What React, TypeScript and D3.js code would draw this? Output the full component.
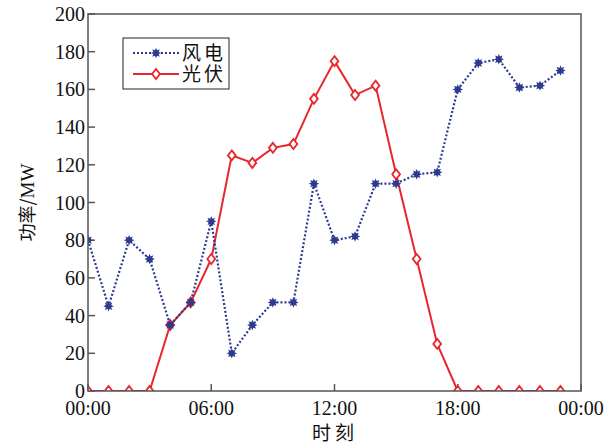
import React from 'react';
import * as d3 from 'd3';

const hours = d3.range(0, 24);
const windPower = [80, 45, 80, 70, 35, 47, 90, 20, 35, 47, 47, 110, 80, 82, 110, 110, 115, 116, 160, 174, 176, 161, 162, 170];
const solarPower = [0, 0, 0, 0, 35, 47, 70, 125, 121, 129, 131, 155, 175, 157, 162, 115, 70, 25, 0, 0, 0, 0, 0, 0];
const xTickHours = [0, 6, 12, 18, 24];
const xTickLabels = ['00:00', '06:00', '12:00', '18:00', '00:00'];
const yTicks = [0, 20, 40, 60, 80, 100, 120, 140, 160, 180, 200];
const legendNames = ['风电', '光伏'];

const W = 611;
const H = 445;
const plot = { left: 88, right: 581, top: 14, bottom: 391 };

const windColor = '#2e3a8f';
const solarColor = '#e8262b';
const axisColor = '#555';
const serif = '"Liberation Serif", "DejaVu Serif", serif';
const cjk = '"Noto Sans CJK SC", sans-serif';

// 8-point star for the wind markers
const star8 = {
  draw(ctx: any, size: number) {
    const r = Math.sqrt(size) / 2;
    const ri = r * 0.55;
    for (let i = 0; i < 16; i++) {
      const a = (i * Math.PI) / 8 - Math.PI / 2;
      const rr = i % 2 === 0 ? r : ri;
      const x = rr * Math.cos(a);
      const y = rr * Math.sin(a);
      if (i === 0) ctx.moveTo(x, y);
      else ctx.lineTo(x, y);
    }
    ctx.closePath();
  },
};

// tall diamond for the solar markers
const diamond = {
  draw(ctx: any, size: number) {
    const h = Math.sqrt(size) / 2;
    const w = h * 0.78;
    ctx.moveTo(0, -h);
    ctx.lineTo(w, 0);
    ctx.lineTo(0, h);
    ctx.lineTo(-w, 0);
    ctx.closePath();
  },
};

export default function App() {
  const x = d3.scaleLinear().domain([0, 24]).range([plot.left, plot.right]);
  const y = d3.scaleLinear().domain([0, 200]).range([plot.bottom, plot.top]);

  const windLine = d3.line<number>().x((_, i) => x(hours[i])).y((d) => y(d));
  const solarLine = d3.line<number>().x((_, i) => x(hours[i])).y((d) => y(d));
  const starPath = d3.symbol(star8 as any, 110)() as string;
  const diamondPath = d3.symbol(diamond as any, 100)() as string;

  const legendX = 123;
  const legendY = 38;

  return (
    <svg width={W} height={H} style={{ position: 'absolute', left: 0, top: 0, background: '#fff' }}>
      <defs>
        <clipPath id="plotClip">
          <rect x={plot.left} y={plot.top} width={plot.right - plot.left} height={plot.bottom - plot.top} />
        </clipPath>
      </defs>

      {/* y ticks */}
      {yTicks.map((t) => (
        <g key={'y' + t}>
          <line x1={plot.left} x2={plot.left + 7} y1={y(t)} y2={y(t)} stroke={axisColor} strokeWidth={1.5} />
          <text x={plot.left - 3} y={y(t)} dy="0.35em" textAnchor="end" fontFamily={serif} fontSize={20} fill="#111">
            {t}
          </text>
        </g>
      ))}

      {/* x ticks */}
      {xTickHours.map((h, i) => (
        <g key={'x' + i}>
          <line x1={x(h)} x2={x(h)} y1={plot.bottom} y2={plot.bottom - 7} stroke={axisColor} strokeWidth={1.5} />
          <text x={x(h)} y={plot.bottom + 24} textAnchor="middle" fontFamily={serif} fontSize={20} fill="#111">
            {xTickLabels[i]}
          </text>
        </g>
      ))}

      <g clipPath="url(#plotClip)">
        <path d={solarLine(solarPower) as string} fill="none" stroke={solarColor} strokeWidth={2} />
        {solarPower.map((v, i) => (
          <path key={'s' + i} d={diamondPath} transform={`translate(${x(hours[i])},${y(v)})`} fill="#fff" stroke={solarColor} strokeWidth={1.8} />
        ))}
        <path d={windLine(windPower) as string} fill="none" stroke={windColor} strokeWidth={2.2} strokeDasharray="2,2" />
        {windPower.map((v, i) => (
          <path key={'w' + i} d={starPath} transform={`translate(${x(hours[i])},${y(v)})`} fill={windColor} />
        ))}
      </g>

      {/* frame */}
      <rect x={plot.left} y={plot.top} width={plot.right - plot.left} height={plot.bottom - plot.top} fill="none" stroke={axisColor} strokeWidth={1.5} />

      {/* legend */}
      <rect x={legendX} y={legendY} width={106} height={51} fill="#fff" stroke="#222" strokeWidth={1} />
      <line x1={legendX + 10} x2={legendX + 56} y1={legendY + 15} y2={legendY + 15} stroke={windColor} strokeWidth={2.2} strokeDasharray="2,2" />
      <path d={starPath} transform={`translate(${legendX + 33},${legendY + 15})`} fill={windColor} />
      <line x1={legendX + 10} x2={legendX + 56} y1={legendY + 36} y2={legendY + 36} stroke={solarColor} strokeWidth={2} />
      <path d={diamondPath} transform={`translate(${legendX + 33},${legendY + 36})`} fill="#fff" stroke={solarColor} strokeWidth={1.8} />
      {legendNames.map((n, i) => (
        <text key={n} x={legendX + 59} y={legendY + 15 + i * 21} dy="0.36em" fontFamily={cjk} fontSize={19} letterSpacing={3} fill="#111">
          {n}
        </text>
      ))}

      {/* axis titles */}
      <text transform={`translate(28,${(plot.top + plot.bottom) / 2}) rotate(-90)`} textAnchor="middle" dy="0.35em" fontFamily={cjk} fontSize={18} fill="#111">
        功率/<tspan fontFamily={serif} fontSize={19}>MW</tspan>
      </text>
      <text x={335} y={440} textAnchor="middle" fontFamily={cjk} fontSize={19} letterSpacing={4} fill="#111">
        时刻
      </text>
    </svg>
  );
}
